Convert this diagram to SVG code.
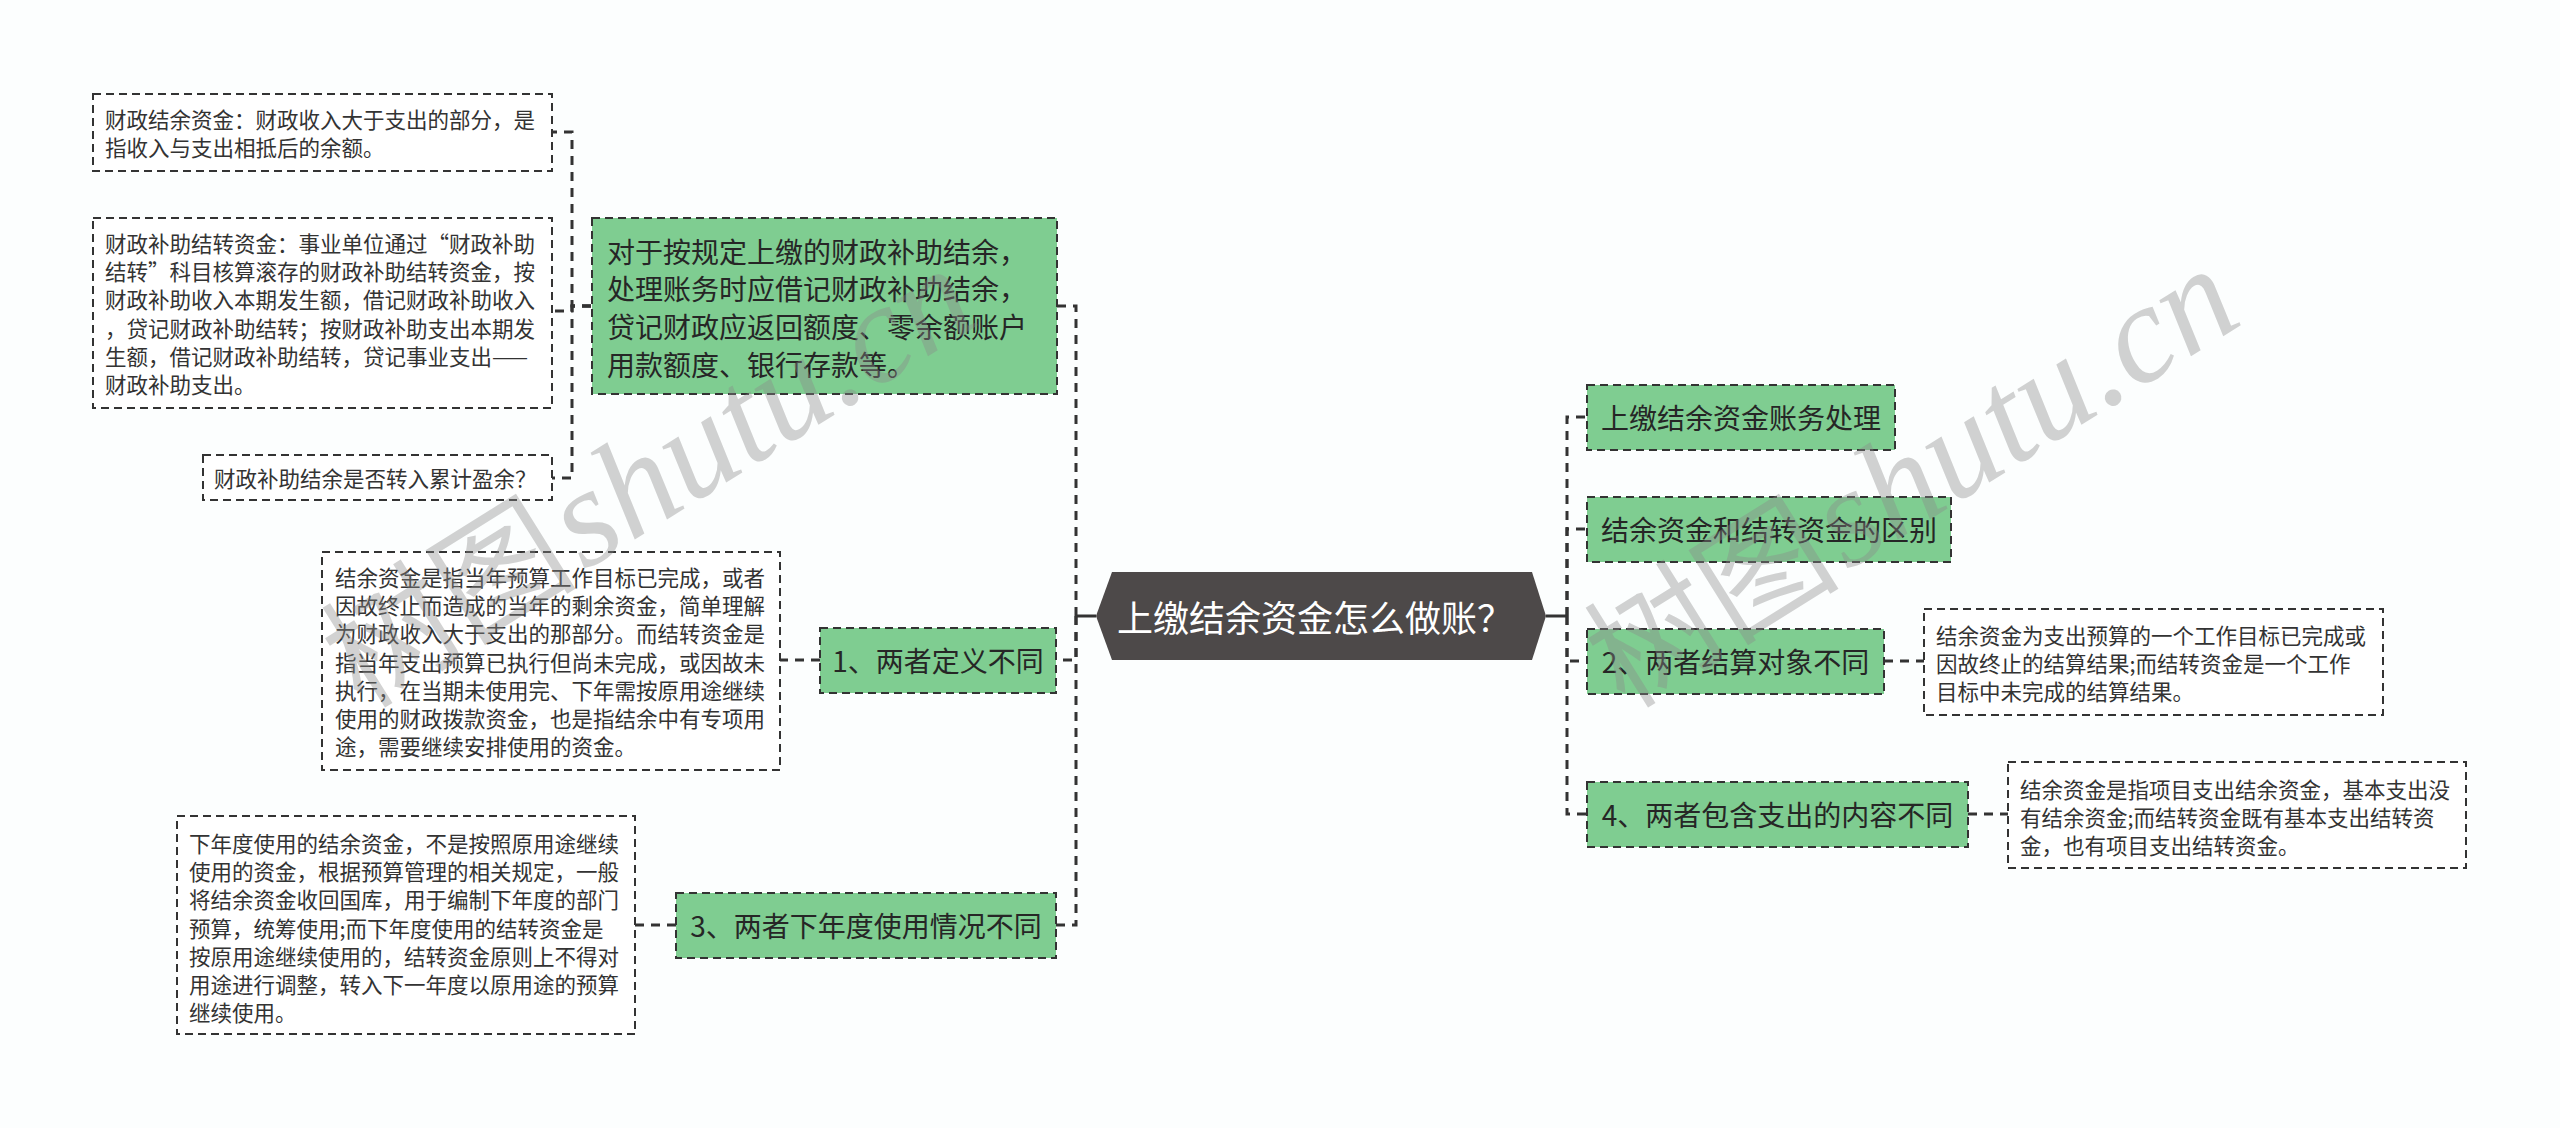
<svg xmlns="http://www.w3.org/2000/svg" width="2560" height="1128" viewBox="0 0 2560 1128">
<style>
  .bg{fill:#fcfefe}
  .green{fill:#7fcd91;stroke:#333;stroke-width:2;stroke-dasharray:8 5}
  .detail{fill:#ffffff;stroke:#333;stroke-width:2;stroke-dasharray:8 5}
  .conn{fill:none;stroke:#333;stroke-width:3;stroke-dasharray:9 7}
  .solid{fill:none;stroke:#333;stroke-width:3}
  .lbl{font-family:"Noto Sans CJK SC","Noto Sans",sans-serif;font-size:28px;fill:#262626;dominant-baseline:central}
  .txt{font-family:"Noto Sans CJK SC","Noto Sans",sans-serif;font-size:21.5px;fill:#333;dominant-baseline:central}
  .title{font-family:"Noto Sans CJK SC","Noto Sans",sans-serif;font-size:36px;fill:#ffffff;dominant-baseline:central}
  .wm{font-family:"Liberation Serif","Noto Sans CJK SC",serif;fill:#8a8a8a;opacity:0.38}
  .wmc{font-size:128px}
  .wml{font-size:140px;font-style:italic}
</style>
<rect class="bg" x="0" y="0" width="2560" height="1128"/>

<g id="connectors">
  <path class="solid" d="M1096 616 H1076"/>
  <path class="solid" d="M1546 616 H1567"/>
  <path class="conn" d="M1076 616 V306 H1056"/>
  <path class="conn" d="M1076 616 V660 H1056"/>
  <path class="conn" d="M1076 616 V925 H1056"/>
  <path class="conn" d="M1567 616 V417 H1587"/>
  <path class="conn" d="M1567 616 V529 H1587"/>
  <path class="conn" d="M1567 616 V661 H1587"/>
  <path class="conn" d="M1567 616 V814 H1587"/>
  <path class="conn" d="M591 306 H572 V132 H552"/>
  <path class="conn" d="M591 306 H572 V311 H552"/>
  <path class="conn" d="M591 306 H572 V478 H552"/>
  <path class="conn" d="M820 660 H780"/>
  <path class="conn" d="M676 925 H635"/>
  <path class="conn" d="M1884 661 H1924"/>
  <path class="conn" d="M1968 814 H2008"/>
</g>

<g id="center">
  <polygon points="1096,616 1112,572 1532,572 1546,616 1532,660 1112,660" fill="#4d4949"/>
  <text class="title" x="1117" y="616">上缴结余资金怎么做账？</text>
</g>

<g id="n-handling">
  <rect class="green" x="1587" y="385" width="308" height="65"/>
  <text class="lbl" x="1741" y="417" text-anchor="middle">上缴结余资金账务处理</text>
</g>
<g id="n-diff">
  <rect class="green" x="1587" y="497" width="364" height="65"/>
  <text class="lbl" x="1769" y="529" text-anchor="middle">结余资金和结转资金的区别</text>
</g>
<g id="n-2">
  <rect class="green" x="1587" y="629" width="297" height="65"/>
  <text class="lbl" x="1735.5" y="661" text-anchor="middle">2、两者结算对象不同</text>
</g>
<g id="n-2-detail">
  <rect class="detail" x="1924" y="609" width="459" height="106"/>
  <text class="txt" x="1936" y="634">结余资金为支出预算的一个工作目标已完成或</text>
  <text class="txt" x="1936" y="662">因故终止的结算结果;而结转资金是一个工作</text>
  <text class="txt" x="1936" y="690">目标中未完成的结算结果。</text>
</g>
<g id="n-4">
  <rect class="green" x="1587" y="782" width="381" height="65"/>
  <text class="lbl" x="1777.5" y="814" text-anchor="middle">4、两者包含支出的内容不同</text>
</g>
<g id="n-4-detail">
  <rect class="detail" x="2008" y="762" width="458" height="106"/>
  <text class="txt" x="2020" y="788">结余资金是指项目支出结余资金，基本支出没</text>
  <text class="txt" x="2020" y="816">有结余资金;而结转资金既有基本支出结转资</text>
  <text class="txt" x="2020" y="844">金，也有项目支出结转资金。</text>
</g>

<g id="n-upjiao">
  <rect class="green" x="592" y="218" width="465" height="176"/>
  <text class="lbl" x="607" y="250.5">对于按规定上缴的财政补助结余，</text>
  <text class="lbl" x="607" y="288.2">处理账务时应借记财政补助结余，</text>
  <text class="lbl" x="607" y="325.9">贷记财政应返回额度、零余额账户</text>
  <text class="lbl" x="607" y="363.6">用款额度、银行存款等。</text>
</g>
<g id="n-upjiao-d1">
  <rect class="detail" x="93" y="94" width="459" height="77"/>
  <text class="txt" x="105" y="118.5">财政结余资金：财政收入大于支出的部分，是</text>
  <text class="txt" x="105" y="146.7">指收入与支出相抵后的余额。</text>
</g>
<g id="n-upjiao-d2">
  <rect class="detail" x="93" y="218" width="459" height="190"/>
  <text class="txt" x="105" y="242.5">财政补助结转资金：事业单位通过“财政补助</text>
  <text class="txt" x="105" y="270.7">结转”科目核算滚存的财政补助结转资金，按</text>
  <text class="txt" x="105" y="298.9">财政补助收入本期发生额，借记财政补助收入</text>
  <text class="txt" x="105" y="327.1">，贷记财政补助结转；按财政补助支出本期发</text>
  <text class="txt" x="105" y="355.3">生额，借记财政补助结转，贷记事业支出——</text>
  <text class="txt" x="105" y="383.5">财政补助支出。</text>
</g>
<g id="n-upjiao-d3">
  <rect class="detail" x="203" y="455" width="349" height="45"/>
  <text class="txt" x="214" y="477.5">财政补助结余是否转入累计盈余？</text>
</g>

<g id="n-1">
  <rect class="green" x="820" y="628" width="236" height="65"/>
  <text class="lbl" x="938" y="660" text-anchor="middle">1、两者定义不同</text>
</g>
<g id="n-1-detail">
  <rect class="detail" x="322" y="552" width="458" height="218"/>
  <text class="txt" x="335" y="576.4">结余资金是指当年预算工作目标已完成，或者</text>
  <text class="txt" x="335" y="604.6">因故终止而造成的当年的剩余资金，简单理解</text>
  <text class="txt" x="335" y="632.8">为财政收入大于支出的那部分。而结转资金是</text>
  <text class="txt" x="335" y="661">指当年支出预算已执行但尚未完成，或因故未</text>
  <text class="txt" x="335" y="689.2">执行，在当期未使用完、下年需按原用途继续</text>
  <text class="txt" x="335" y="717.4">使用的财政拨款资金，也是指结余中有专项用</text>
  <text class="txt" x="335" y="745.6">途，需要继续安排使用的资金。</text>
</g>

<g id="n-3">
  <rect class="green" x="676" y="893" width="380" height="65"/>
  <text class="lbl" x="866" y="925" text-anchor="middle">3、两者下年度使用情况不同</text>
</g>
<g id="n-3-detail">
  <rect class="detail" x="177" y="816" width="458" height="218"/>
  <text class="txt" x="189" y="842.4">下年度使用的结余资金，不是按照原用途继续</text>
  <text class="txt" x="189" y="870.6">使用的资金，根据预算管理的相关规定，一般</text>
  <text class="txt" x="189" y="898.8">将结余资金收回国库，用于编制下年度的部门</text>
  <text class="txt" x="189" y="927">预算，统筹使用;而下年度使用的结转资金是</text>
  <text class="txt" x="189" y="955.2">按原用途继续使用的，结转资金原则上不得对</text>
  <text class="txt" x="189" y="983.4">用途进行调整，转入下一年度以原用途的预算</text>
  <text class="txt" x="189" y="1011.6">继续使用。</text>
</g>

<g id="watermarks">
  <text class="wm" x="362" y="710" transform="rotate(-32 362 710)"><tspan class="wmc">树图</tspan><tspan class="wml" dx="6">shutu.cn</tspan></text>
  <text class="wm" x="1625" y="710" transform="rotate(-32 1625 710)"><tspan class="wmc">树图</tspan><tspan class="wml" dx="6">shutu.cn</tspan></text>
</g>
</svg>
